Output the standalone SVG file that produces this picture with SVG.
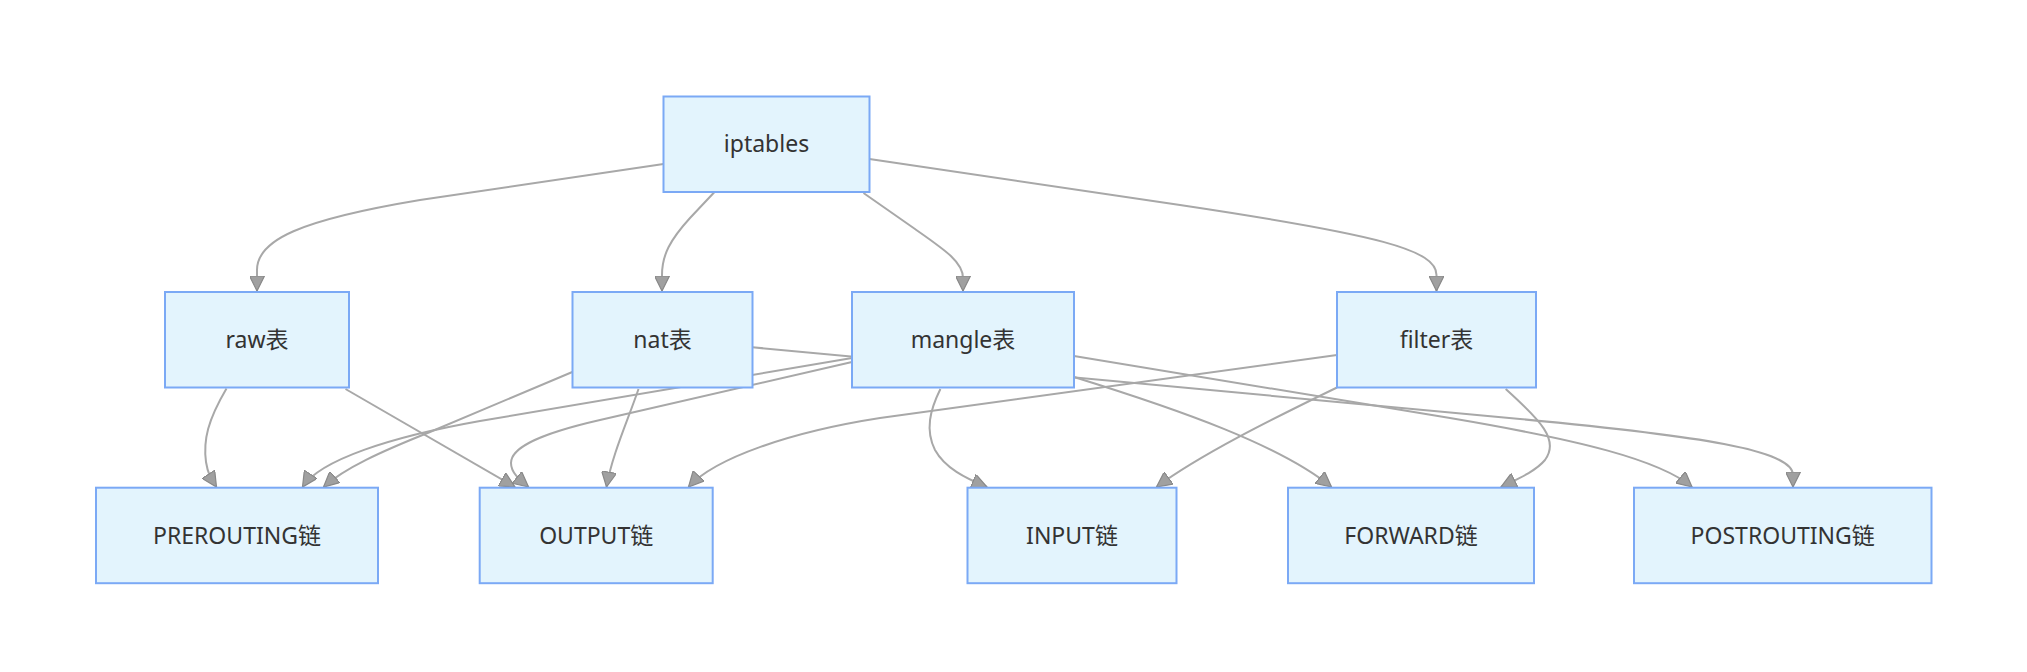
<svg xmlns="http://www.w3.org/2000/svg" width="2027" height="672" viewBox="0 0 2027 672">
<style>
.node rect{fill:#e3f4fd;stroke:#7ba9f5;stroke-width:2}
.node text{font-family:"Trebuchet MS","Noto Sans","Noto Sans CJK SC",sans-serif;font-size:23px;fill:#333;text-anchor:middle}
.edge{fill:none;stroke:#a8a8a8;stroke-width:2;marker-end:url(#arrow)}
</style>
<defs>
<marker id="arrow" viewBox="0 0 10 10" refX="10" refY="5" markerUnits="userSpaceOnUse" markerWidth="16" markerHeight="15" orient="auto">
<path d="M0,0 L10,5 L0,10 z" fill="#a0a0a0" stroke="#888" stroke-width="0.8"/>
</marker>
</defs>
<rect width="2027" height="672" fill="#fff"/>
<g id="connectors">
<path class="edge" d="M663.5,164 L420,200 C300,220 257,240 257,270 L257,291"/>
<path class="edge" d="M714.5,192 L690,218 C670,240 662,255 662,275 L662,291"/>
<path class="edge" d="M863.5,193 L915,229 C945,250 963,262 963,278 L963,291"/>
<path class="edge" d="M869.5,159 L1180,205 C1380,235 1436.5,250 1436.5,275 L1436.5,291"/>
<path class="edge" d="M226.5,388.5 C208,420 203,440 206,462 C208,475 212,480 216.5,487"/>
<path class="edge" d="M345.5,389 L515,487"/>
<path class="edge" d="M572.3,372 L430,432 C380,452 345,468 323.5,487"/>
<path class="edge" d="M638.5,389 C628,420 612,455 606.5,487"/>
<path class="edge" d="M752.5,347.3 L1520,419 C1700,436 1793,450 1793,475 L1793,487"/>
<path class="edge" d="M852,358 L480,421 C390,437 320,460 302.5,487"/>
<path class="edge" d="M852,362 L600,420 C530,436 511,450 511,463 C511,473 520,480 528.5,487"/>
<path class="edge" d="M940.4,389 C930,410 925,430 935,450 C945,468 965,478 987,487"/>
<path class="edge" d="M1074,377 C1180,410 1280,445 1331.5,487"/>
<path class="edge" d="M1074,356 L1450,418 C1580,440 1660,460 1692,487"/>
<path class="edge" d="M1337,355 L880,418 C790,432 715,458 688.5,487"/>
<path class="edge" d="M1337,387.5 C1270,420 1200,455 1156.5,487"/>
<path class="edge" d="M1505.7,389 C1540,420 1560,440 1545,460 C1535,472 1515,480 1501,487"/>
</g>
<g id="iptables" class="node"><rect x="663.5" y="96.5" width="206" height="95.5"/><text x="766.5" y="152">iptables</text></g>
<g id="raw" class="node"><rect x="165" y="292" width="184" height="95.5"/><text x="257" y="348">raw表</text></g>
<g id="nat" class="node"><rect x="572.5" y="292" width="180" height="95.5"/><text x="662.5" y="348">nat表</text></g>
<g id="mangle" class="node"><rect x="852" y="292" width="222" height="95.5"/><text x="963" y="348">mangle表</text></g>
<g id="filter" class="node"><rect x="1337" y="292" width="199" height="95.5"/><text x="1436.5" y="348">filter表</text></g>
<g id="prerouting" class="node"><rect x="96" y="487.7" width="282" height="95.5"/><text x="237" y="544">PREROUTING链</text></g>
<g id="output" class="node"><rect x="479.7" y="487.7" width="233" height="95.5"/><text x="596.2" y="544">OUTPUT链</text></g>
<g id="input" class="node"><rect x="967.5" y="487.7" width="209" height="95.5"/><text x="1072" y="544">INPUT链</text></g>
<g id="forward" class="node"><rect x="1288" y="487.7" width="246" height="95.5"/><text x="1411" y="544">FORWARD链</text></g>
<g id="postrouting" class="node"><rect x="1634" y="487.7" width="297.5" height="95.5"/><text x="1782.7" y="544">POSTROUTING链</text></g>
</svg>
